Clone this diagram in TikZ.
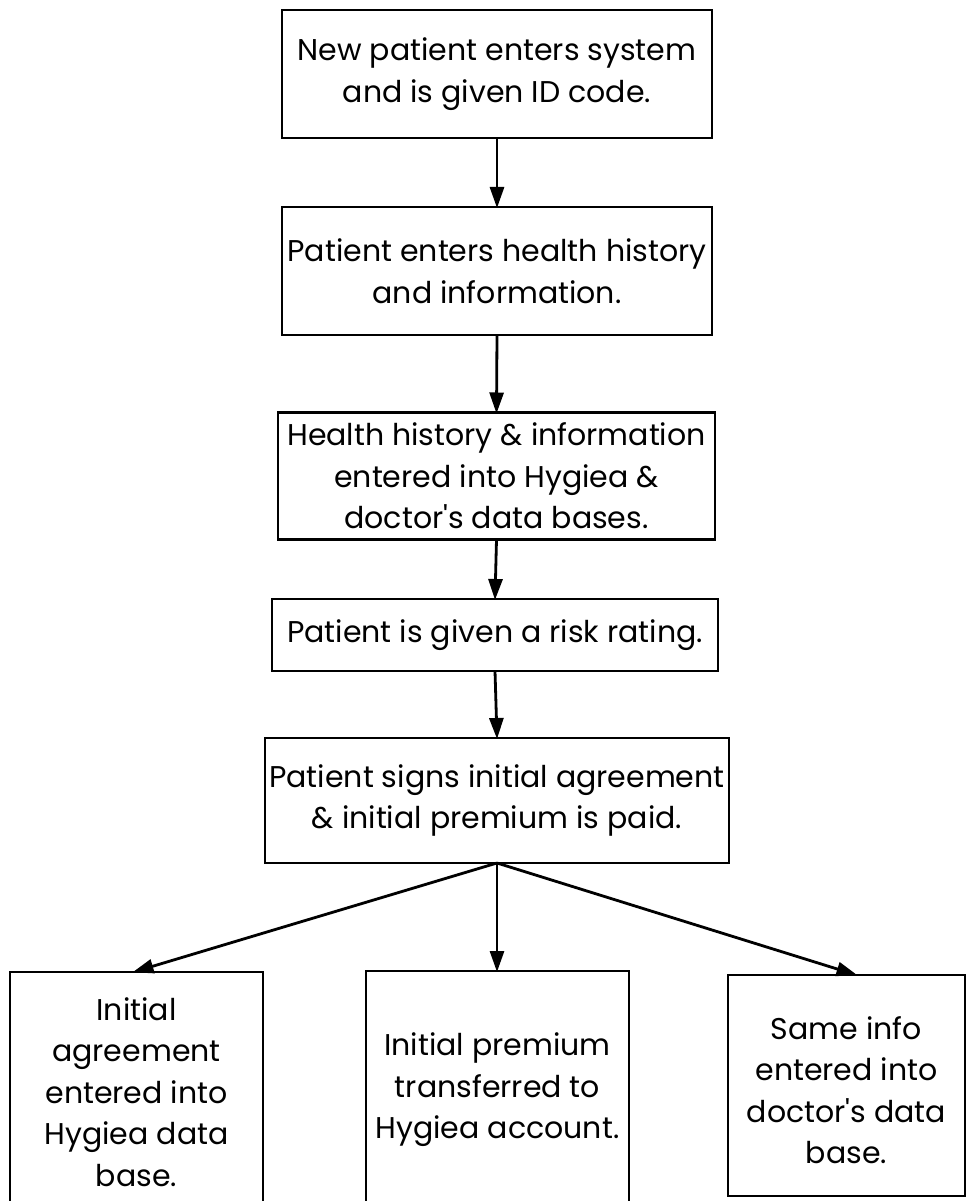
\documentclass[tikz,border=0pt]{standalone}
\usepackage{fontspec}
\setmainfont{Poppins}
\usetikzlibrary{arrows.meta}
\tikzset{
  flowbox/.style={draw, line width=2.8pt, inner sep=0pt, outer sep=0pt},
  flowtext/.style={align=center, inner sep=0pt, font=\fontsize{30}{41.5}\selectfont},
  flowarrow/.style={line width=2.8pt, -{Triangle[length=21pt,width=14pt]}, shorten >=-1pt}
}
\begin{document}
\begin{tikzpicture}[x=1pt,y=-1pt]
  \useasboundingbox (0,0) rectangle (970,1201);
  \clip (0,0) rectangle (970,1201);
  \fill[white] (0,0) rectangle (970,1201);

  % main chain
  \node[flowbox, flowtext, minimum width=430pt, minimum height=128pt] (newpt) at (497,74)
    {New patient enters system\\and is given ID code.};
  \node[flowbox, flowtext, minimum width=430pt, minimum height=128pt] (history) at (497,271)
    {Patient enters health history\\and information.};
  \node[flowbox, flowtext, minimum width=437pt, minimum height=127pt] (entered) at (496.5,476)
    {Health history \& information\\entered into Hygiea \&\\doctor\textquotesingle s data bases.};
  \node[flowbox, flowtext, minimum width=446pt, minimum height=72pt] (risk) at (495,635)
    {Patient is given a risk rating.};
  \node[flowbox, flowtext, minimum width=464pt, minimum height=125pt] (signs) at (497,800.5)
    {Patient signs initial agreement\\\& initial premium is paid.};

  % three outcome boxes
  \node[flowbox, minimum width=253pt, minimum height=250pt] (agree) at (136.5,1097) {};
  \node[flowbox, minimum width=263pt, minimum height=250pt] (premium) at (497.5,1096) {};
  \node[flowbox, minimum width=237pt, minimum height=221pt] (doctor) at (846.5,1085.5) {};

  \node[flowtext] (agreetxt) at (136.5,1092)
    {Initial\\agreement\\entered into\\Hygiea data\\base.};
  \node[flowtext] (premiumtxt) at (497.5,1090)
    {Initial premium\\transferred to\\Hygiea account.};
  \node[flowtext] (doctortxt) at (846.5,1090)
    {Same info\\entered into\\doctor\textquotesingle s data\\base.};

  % connectors
  \draw[flowarrow] (newpt.south) -- (history.north);
  \draw[flowarrow] (history.south) -- (entered.north);
  \draw[flowarrow] (entered.south) -- (risk.north);
  \draw[flowarrow] (risk.south) -- (signs.north);
  \draw[flowarrow] (signs.south) -- ([xshift=-3pt]agree.north);
  \draw[flowarrow] (signs.south) -- (premium.north -| signs.south);
  \draw[flowarrow] (signs.south) -- ([xshift=10pt]doctor.north);
\end{tikzpicture}
\end{document}
